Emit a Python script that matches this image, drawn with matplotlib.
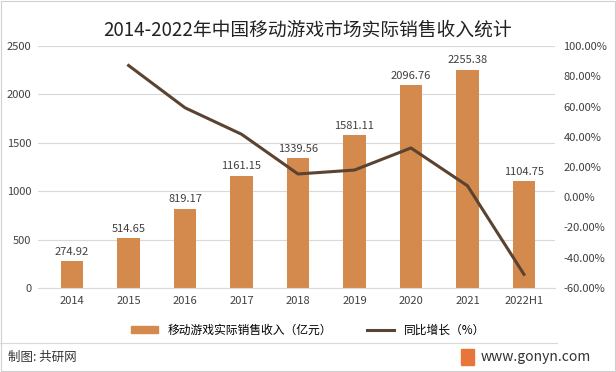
import matplotlib.pyplot as plt
from matplotlib.patches import Rectangle
from matplotlib.lines import Line2D

plt.rcParams['font.family'] = ['Noto Sans CJK SC', 'DejaVu Sans']

years = ["2014", "2015", "2016", "2017", "2018", "2019", "2020", "2021", "2022H1"]
revenue = [274.92, 514.65, 819.17, 1161.15, 1339.56, 1581.11, 2096.76, 2255.38, 1104.75]
growth_years = ["2015", "2016", "2017", "2018", "2019", "2020", "2021", "2022H1"]
growth = [87.2, 59.2, 41.7, 15.4, 18.0, 32.6, 7.6, -51.0]

bar_color = "#D38A4C"
line_color = "#5B4331"

fig = plt.figure(figsize=(6.16, 3.72), dpi=100)
ax = fig.add_axes([0.062, 0.226, 0.839, 0.650])
ax2 = ax.twinx()

x = list(range(len(years)))
ax.bar(x, revenue, width=0.4, color=bar_color, zorder=2)
for xi, v in zip(x, revenue):
    ax.text(xi, v + 45, f"{v:.2f}", ha="center", va="bottom", fontsize=8, color="#404040")

gx = [years.index(y) for y in growth_years]
ax2.plot(gx, growth, color=line_color, linewidth=2.2, zorder=3)

ax.set_ylim(0, 2500)
ax.set_yticks(range(0, 2501, 500))
ax2.set_ylim(-60, 100)
ax2.set_yticks(range(-60, 101, 20))
ax2.set_yticklabels([f"{t:.2f}%" for t in range(-60, 101, 20)])
ax.set_xlim(-0.6, len(years) - 0.45)
ax.set_xticks(x)
ax.set_xticklabels(years)

ax.grid(axis="y", color="#D9D9D9", linewidth=0.8, zorder=0)
ax.set_axisbelow(True)
for a in (ax, ax2):
    for s in a.spines.values():
        s.set_visible(False)
    a.tick_params(length=0, labelsize=8, colors="#404040")
ax.spines["bottom"].set_visible(True)
ax.spines["bottom"].set_color("#D9D9D9")
ax.tick_params(axis="x", pad=6)
ax.tick_params(axis="y", pad=5)
ax2.tick_params(axis="y", pad=6)

fig.text(0.5, 0.918, "2014-2022年中国移动游戏市场实际销售收入统计", ha="center", va="center",
         fontsize=13.5, color="#222222")

handles = [Rectangle((0, 0), 1, 1, color=bar_color), Line2D([0], [0], color=line_color, linewidth=2.2)]
fig.legend(handles, ["移动游戏实际销售收入（亿元）", "同比增长（%）"], loc="center",
           bbox_to_anchor=(0.5, 0.112), ncol=2, frameon=False, fontsize=8.5, handlelength=2.3,
           columnspacing=3, handleheight=0.6)

fig.add_artist(Line2D([0.0, 0.905], [0.078, 0.078], color="#D9D9D9", linewidth=0.8))
fig.text(0.013, 0.04, "制图: 共研网", ha="left", va="center", fontsize=9, color="#333333")
fig.text(0.96, 0.04, "www.gonyn.com", ha="right", va="center", fontsize=10, color="#333333")
fig.add_artist(Rectangle((0.748, 0.018), 0.022, 0.045, color="#E8763A"))
fig.add_artist(Rectangle((0.001, 0.002), 0.997, 0.996, fill=False, edgecolor="#D0D0D0", linewidth=0.8))

fig.savefig("out.png", dpi=100)
